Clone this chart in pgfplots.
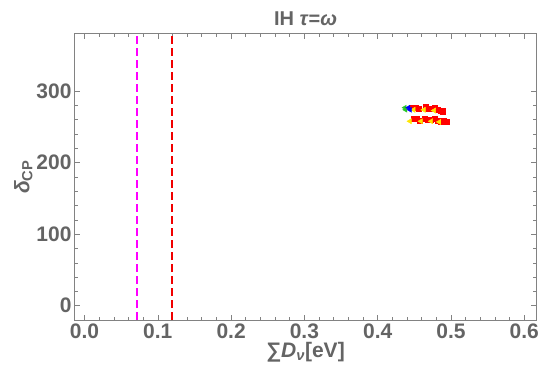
\documentclass[border=0pt]{standalone}
\usepackage{fontspec}
\setmainfont{Liberation Sans}
\usepackage{pgfplots}
\pgfplotsset{compat=1.18}
\definecolor{txtgray}{RGB}{100,100,100}
\definecolor{framegray}{RGB}{130,130,130}
\definecolor{linemagenta}{RGB}{255,0,255}
\definecolor{linered}{RGB}{240,0,0}
\definecolor{ptred}{RGB}{255,0,0}
\definecolor{ptyellow}{RGB}{255,230,0}
\definecolor{ptgreen}{RGB}{40,200,40}
\definecolor{ptblue}{RGB}{0,0,255}
\begin{document}
\begin{tikzpicture}
\begin{axis}[
    scale only axis,
    width=461pt, height=286pt,
    xmin=-0.013, xmax=0.616,
    ymin=-20, ymax=380,
    xtick={0,0.1,0.2,0.3,0.4,0.5,0.6},
    ytick={0,100,200,300},
    minor x tick num=4,
    minor y tick num=4,
    tick align=inside,
    major tick length=5pt,
    minor tick length=3pt,
    axis line style={framegray, line width=1pt},
    every tick/.style={framegray, line width=0.6pt},
    /pgf/number format/assume math mode=true,
    xticklabel style={/pgf/number format/.cd, fixed, fixed zerofill, precision=1},
    tick label style={font=\fontsize{21}{24}\selectfont\bfseries, text=txtgray},
    label style={font=\fontsize{21}{24}\selectfont\bfseries, text=txtgray},
    title style={font=\fontsize{20}{24}\selectfont\bfseries, text=txtgray, yshift=-1pt},
    title={IH \textit{τ}=\textit{ω}},
    xlabel={∑\textit{D}\textsubscript{\textit{ν}}[eV]},
    ylabel={\textit{δ}\textsubscript{CP}},
    xlabel style={yshift=3pt},
    ylabel style={yshift=-3pt},
    clip=true,
]
% dashed bounds
\addplot[linemagenta, line width=2pt, dash pattern=on 8pt off 4pt] coordinates {(0.072,-20) (0.072,380)};
\addplot[linered, line width=2pt, dash pattern=on 8pt off 4pt] coordinates {(0.12,-20) (0.12,380)};
% red points
\addplot[only marks, mark=square*, mark size=2.6pt, mark options={draw=ptred, fill=ptred}] coordinates {
    (0.446,277) (0.452,277) (0.456,275) (0.465,278) (0.468,275) (0.472,276)
    (0.478,277) (0.482,274) (0.486,273) (0.489,272)
    (0.449,261) (0.453,262) (0.457,259) (0.464,262) (0.468,260) (0.472,260)
    (0.478,261) (0.482,259) (0.486,258) (0.490,258) (0.494,257)
};
% yellow points
\addplot[only marks, mark=triangle*, mark size=3pt, mark options={draw=ptyellow, fill=ptyellow, rotate=90}] coordinates {
    (0.449,274) (0.463,274) (0.477,273)
    (0.444,258) (0.459,258) (0.473,258) (0.484,257)
};
% green points
\addplot[only marks, mark=triangle*, mark size=2.8pt, mark options={draw=ptgreen, fill=ptgreen, rotate=90}] coordinates {
    (0.437,277) (0.438,274)
};
% blue points
\addplot[only marks, mark=triangle*, mark size=2.8pt, mark options={draw=ptblue, fill=ptblue, rotate=90}] coordinates {
    (0.442,277) (0.444,274)
};
\end{axis}
\pgfresetboundingbox
\path ([xshift=-75pt,yshift=-65pt]current axis.south west) rectangle ([xshift=9pt,yshift=34pt]current axis.north east);
\end{tikzpicture}
\end{document}
